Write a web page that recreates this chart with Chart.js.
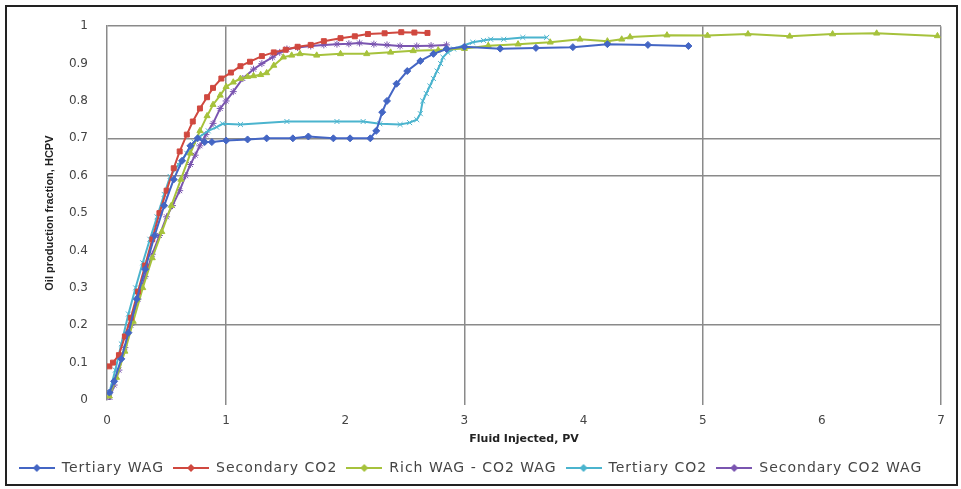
<!DOCTYPE html>
<html>
<head>
<meta charset="utf-8">
<script src="https://cdn.jsdelivr.net/npm/chart.js@4.4.1/dist/chart.umd.min.js"></script>
<style>
  html, body { margin: 0; padding: 0; background: #fff; }
  #wrap { width: 961px; height: 489px; }
</style>
</head>
<body>
<div id="wrap"><canvas id="lineChart" width="961" height="489"></canvas></div>
<script>
// Values (x = fluid injected PV, y = oil production fraction)
const seriesNames = ['Tertiary WAG', 'Secondary CO2', 'Rich WAG - CO2 WAG', 'Tertiary CO2', 'Secondary CO2 WAG'];
const xTicks = [0, 1, 2, 3, 4, 5, 6, 7];
const yTicks = [0, 0.1, 0.2, 0.3, 0.4, 0.5, 0.6, 0.7, 0.8, 0.9, 1];

const tertiaryWagX = [0.02, 0.06, 0.12, 0.18, 0.25, 0.32, 0.40, 0.48, 0.56, 0.63, 0.70, 0.76, 0.82, 0.88, 1.0, 1.18, 1.34, 1.56, 1.69, 1.9, 2.04, 2.21, 2.26, 2.31, 2.35, 2.43, 2.52, 2.63, 2.74, 2.85, 3.0, 3.3, 3.6, 3.91, 4.2, 4.54, 4.88];
const tertiaryWagY = [0.02, 0.05, 0.11, 0.18, 0.27, 0.35, 0.44, 0.52, 0.59, 0.64, 0.68, 0.70, 0.69, 0.69, 0.694, 0.697, 0.70, 0.70, 0.705, 0.70, 0.70, 0.70, 0.72, 0.77, 0.80, 0.846, 0.88, 0.907, 0.926, 0.939, 0.945, 0.94, 0.942, 0.944, 0.952, 0.95, 0.947];

const secondaryCo2X = [0.02, 0.05, 0.1, 0.15, 0.2, 0.26, 0.32, 0.38, 0.44, 0.5, 0.56, 0.61, 0.67, 0.72, 0.78, 0.84, 0.89, 0.96, 1.04, 1.12, 1.2, 1.3, 1.4, 1.5, 1.6, 1.71, 1.82, 1.96, 2.08, 2.19, 2.33, 2.47, 2.58, 2.69];
const secondaryCo2Y = [0.09, 0.1, 0.12, 0.17, 0.22, 0.29, 0.36, 0.43, 0.5, 0.56, 0.62, 0.665, 0.71, 0.745, 0.78, 0.81, 0.835, 0.86, 0.876, 0.893, 0.905, 0.92, 0.93, 0.937, 0.945, 0.95, 0.96, 0.968, 0.973, 0.979, 0.981, 0.984, 0.983, 0.982];

const richWagX = [0.02, 0.08, 0.15, 0.22, 0.3, 0.38, 0.46, 0.54, 0.62, 0.7, 0.78, 0.84, 0.89, 0.95, 1.0, 1.06, 1.12, 1.18, 1.23, 1.29, 1.34, 1.4, 1.48, 1.55, 1.62, 1.76, 1.96, 2.18, 2.38, 2.57, 2.78, 3.0, 3.2, 3.45, 3.72, 3.97, 4.2, 4.32, 4.39, 4.7, 5.04, 5.38, 5.73, 6.09, 6.46, 6.97];
const richWagY = [0.01, 0.06, 0.13, 0.21, 0.3, 0.38, 0.45, 0.52, 0.59, 0.66, 0.72, 0.76, 0.79, 0.815, 0.838, 0.85, 0.86, 0.865, 0.867, 0.87, 0.875, 0.895, 0.917, 0.922, 0.926, 0.922, 0.926, 0.926, 0.93, 0.934, 0.936, 0.94, 0.948, 0.952, 0.957, 0.965, 0.96, 0.965, 0.971, 0.976, 0.975, 0.979, 0.973, 0.979, 0.981, 0.974];

const tertiaryCo2X = [0.02, 0.07, 0.12, 0.18, 0.24, 0.3, 0.36, 0.42, 0.48, 0.53, 0.6, 0.67, 0.73, 0.78, 0.85, 0.92, 0.97, 1.12, 1.51, 1.93, 2.15, 2.29, 2.46, 2.54, 2.6, 2.63, 2.65, 2.68, 2.71, 2.74, 2.77, 2.8, 2.82, 2.86, 2.91, 3.07, 3.16, 3.22, 3.33, 3.49, 3.69];
const tertiaryCo2Y = [0.02, 0.08, 0.15, 0.23, 0.3, 0.367, 0.43, 0.49, 0.55, 0.598, 0.63, 0.66, 0.69, 0.705, 0.72, 0.73, 0.739, 0.737, 0.745, 0.745, 0.745, 0.739, 0.737, 0.742, 0.75, 0.766, 0.80, 0.82, 0.84, 0.86, 0.88, 0.9, 0.917, 0.93, 0.939, 0.957, 0.962, 0.965, 0.965, 0.97, 0.97];

const secondaryWagX = [0.02, 0.06, 0.1, 0.15, 0.2, 0.26, 0.32, 0.38, 0.44, 0.5, 0.55, 0.61, 0.66, 0.7, 0.74, 0.78, 0.83, 0.89, 0.95, 1.0, 1.06, 1.14, 1.23, 1.3, 1.39, 1.45, 1.51, 1.6, 1.71, 1.82, 1.93, 2.03, 2.12, 2.24, 2.35, 2.46, 2.6, 2.72, 2.85];
const secondaryWagY = [0.0, 0.04, 0.08, 0.14, 0.2, 0.27, 0.33, 0.39, 0.44, 0.49, 0.52, 0.56, 0.6, 0.63, 0.655, 0.68, 0.71, 0.74, 0.78, 0.80, 0.825, 0.86, 0.885, 0.9, 0.917, 0.93, 0.939, 0.943, 0.947, 0.95, 0.952, 0.953, 0.955, 0.952, 0.95, 0.947, 0.947, 0.948, 0.95];

const colors = ['#4466C4', '#D0483F', '#A6C23C', '#4BB4CE', '#7A55B0'];
const markers = ['rectRot', 'rect', 'triangle', 'crossRot', 'star'];

const xs = [tertiaryWagX, secondaryCo2X, richWagX, tertiaryCo2X, secondaryWagX];
const ys = [tertiaryWagY, secondaryCo2Y, richWagY, tertiaryCo2Y, secondaryWagY];

function toPoints(x, y) {
    return x.map((v, i) => ({ x: v, y: y[i] }));
}

// small line + diamond picture for the legend entries
function legendIcon(color) {
    const c = document.createElement('canvas');
    c.width = 36;
    c.height = 10;
    const g = c.getContext('2d');
    g.strokeStyle = color;
    g.lineWidth = 2;
    g.beginPath();
    g.moveTo(0, 5);
    g.lineTo(36, 5);
    g.stroke();
    g.fillStyle = color;
    g.beginPath();
    g.moveTo(18, 1);
    g.lineTo(22, 5);
    g.lineTo(18, 9);
    g.lineTo(14, 5);
    g.closePath();
    g.fill();
    return c;
}

const datasets = seriesNames.map((name, i) => ({
    label: name,
    data: toPoints(xs[i], ys[i]),
    borderColor: colors[i],
    backgroundColor: colors[i],
    borderWidth: 2,
    pointStyle: markers[i],
    pointRadius: 3.5,
    pointBorderWidth: 1,
    tension: 0,
    fill: false
}));

const near = (v, list) => list.some(t => Math.abs(v - t) < 1e-6);

// outer frame around the whole chart
const framePlugin = {
    id: 'frame',
    beforeDraw(chart) {
        const ctx = chart.ctx;
        ctx.save();
        ctx.fillStyle = '#fff';
        ctx.fillRect(0, 0, chart.width, chart.height);
        ctx.restore();
    },
    afterDraw(chart) {
        const ctx = chart.ctx;
        ctx.save();
        ctx.strokeStyle = '#222';
        ctx.lineWidth = 2;
        ctx.strokeRect(6, 6, 951, 479);
        ctx.restore();
    }
};

const chartConfig = {
    type: 'line',
    data: { datasets: datasets },
    plugins: [framePlugin],
    options: {
        responsive: false,
        animation: false,
        layout: { padding: { top: 22, right: 20, bottom: 4, left: 0 } },
        plugins: {
            tooltip: { enabled: false },
            legend: {
                position: 'bottom',
                labels: {
                    usePointStyle: true,
                    pointStyleWidth: 36,
                    padding: 9,
                    color: '#444',
                    font: { family: 'DejaVu Sans', size: 14 },
                    generateLabels(chart) {
                        const items = Chart.defaults.plugins.legend.labels.generateLabels(chart);
                        items.forEach((it, i) => { it.pointStyle = legendIcon(colors[i]); });
                        return items;
                    }
                }
            }
        },
        scales: {
            x: {
                type: 'linear',
                min: 0,
                max: 7,
                afterBuildTicks: scale => { scale.ticks = xTicks.map(v => ({ value: v })); },
                afterFit: scale => { scale.height = 52; },
                border: { display: false },
                grid: {
                    color: ctx => near(ctx.tick.value, [1, 3, 5, 7]) ? '#8a8a8a' : 'rgba(0,0,0,0)',
                    lineWidth: 1.5,
                    tickLength: 5
                },
                ticks: {
                    padding: 9,
                    color: '#444',
                    font: { family: 'DejaVu Sans', size: 12 },
                    maxRotation: 0
                },
                title: {
                    display: true,
                    text: 'Fluid Injected, PV',
                    color: '#222',
                    font: { family: 'DejaVu Sans', size: 11, weight: 'bold' },
                    padding: { top: 0, bottom: 6 }
                }
            },
            y: {
                type: 'linear',
                min: 0,
                max: 1,
                afterBuildTicks: scale => { scale.ticks = yTicks.map(v => ({ value: v })); },
                afterFit: scale => { scale.width = 107; },
                border: { display: true, color: '#8a8a8a', width: 1.5 },
                grid: {
                    color: ctx => near(ctx.tick.value, [0.2, 0.6, 0.7, 1]) ? '#8a8a8a' : 'rgba(0,0,0,0)',
                    lineWidth: 1.5,
                    drawTicks: false
                },
                ticks: {
                    padding: 19,
                    color: '#444',
                    font: { family: 'DejaVu Sans', size: 12 },
                    callback: v => (v === 0 || v === 1) ? String(v) : v.toFixed(1)
                },
                title: {
                    display: true,
                    text: 'Oil production fraction, HCPV',
                    color: '#222',
                    font: { family: 'Liberation Sans', size: 11, weight: 'bold' },
                    padding: { top: 43, bottom: 0 }
                }
            }
        }
    }
};

const ctx = document.getElementById('lineChart').getContext('2d');
const chart = new Chart(ctx, chartConfig);

// the legend text in the picture is widely spaced: add letter spacing to the legend only
const legendFit = chart.legend.fit.bind(chart.legend);
const legendDraw = chart.legend.draw.bind(chart.legend);
chart.legend.fit = function () {
    ctx.letterSpacing = '1px';
    legendFit();
    ctx.letterSpacing = '0px';
};
chart.legend.draw = function () {
    ctx.letterSpacing = '1px';
    legendDraw();
    ctx.letterSpacing = '0px';
};
chart.update();
</script>
</body>
</html>
